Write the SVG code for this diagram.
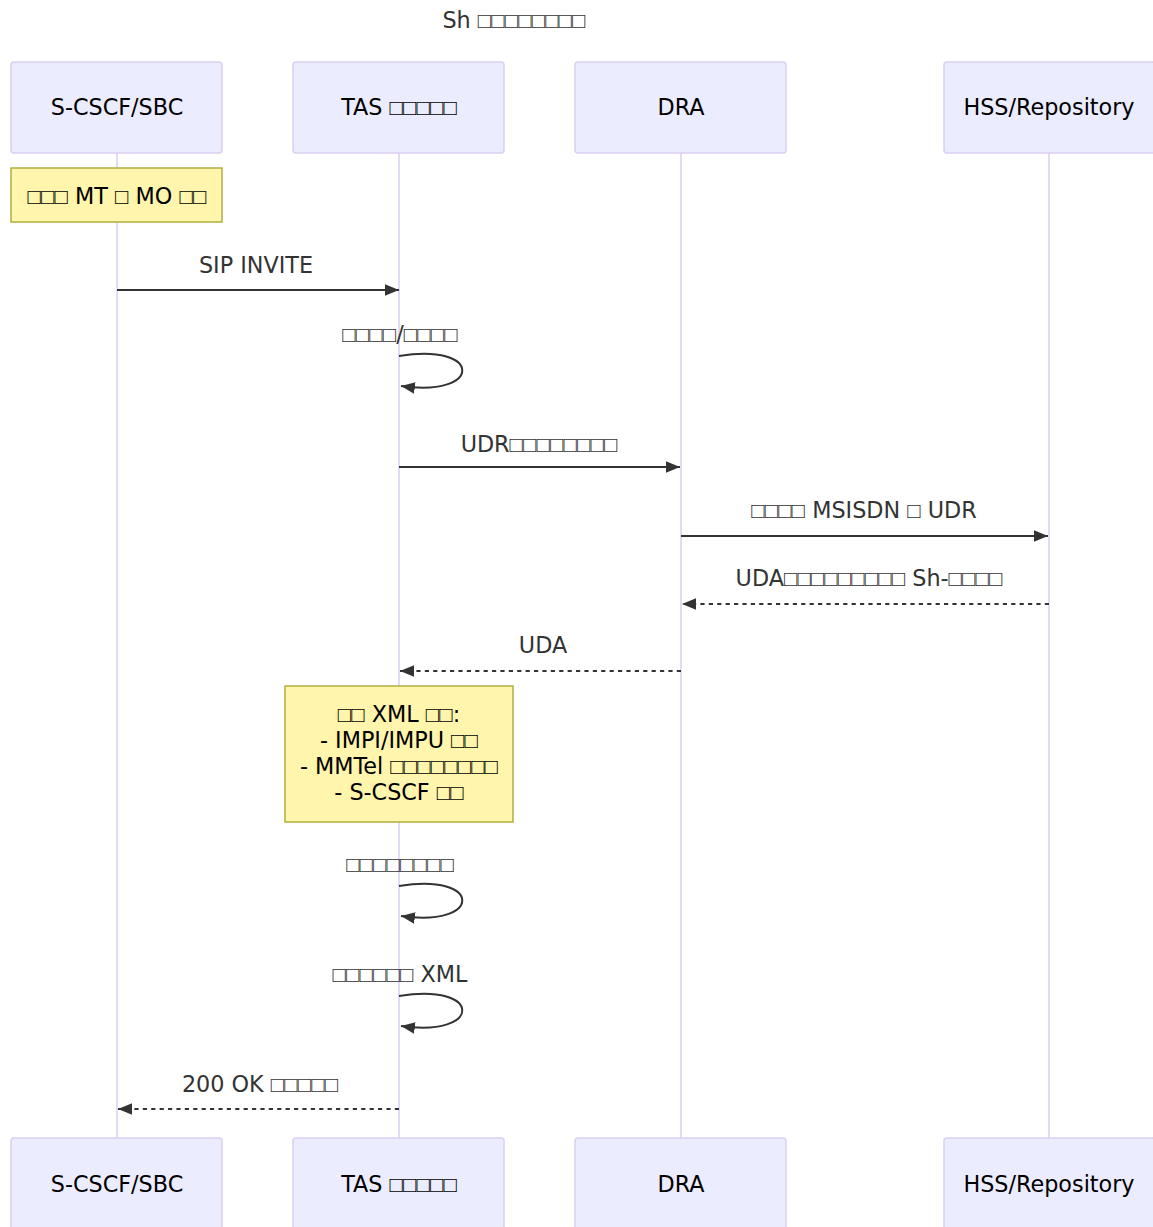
<svg xmlns="http://www.w3.org/2000/svg" width="1153" height="1227" viewBox="0 0 1153 1227">
<style>
text{font-family:"DejaVu Sans","Liberation Sans",sans-serif;font-size:22.3px;fill:#333;text-anchor:middle}
.b{font-family:"Liberation Sans",sans-serif}
.actor{fill:#ECECFF;stroke:#DACEF3;stroke-width:1.5}
.actor-t{fill:#000}
.life{stroke:#DACEF3;stroke-width:1.5}
.note{fill:#FFF5AD;stroke:#AAAA33;stroke-width:1.4}
.note-t{fill:#000}
.msg{stroke:#333;stroke-width:2;fill:none}
.dash{stroke-dasharray:4.2 4.2}
</style>
<defs>
<marker id="ah" viewBox="0 0 12 10" refX="12" refY="5" markerWidth="14" markerHeight="11.7" markerUnits="userSpaceOnUse" orient="auto">
<path d="M0,0 L12,5 L0,10 z" fill="#333"/>
</marker>
</defs>
<text x="514" y="28">Sh <tspan class="b">□□□□□□□□</tspan></text>
<g id="lifelines">
<line class="life" x1="117" y1="153" x2="117" y2="1138"/>
<line class="life" x1="399" y1="153" x2="399" y2="1138"/>
<line class="life" x1="681" y1="153" x2="681" y2="1138"/>
<line class="life" x1="1049" y1="153" x2="1049" y2="1138"/>
</g>
<g id="actor-scscf">
<rect class="actor" x="11" y="62" width="211" height="91" rx="3"/>
<text class="actor-t" x="117" y="115">S-CSCF/SBC</text>
<rect class="actor" x="11" y="1138" width="211" height="91" rx="3"/>
<text class="actor-t" x="117" y="1192">S-CSCF/SBC</text>
</g>
<g id="actor-tas">
<rect class="actor" x="293" y="62" width="211" height="91" rx="3"/>
<text class="actor-t" x="399" y="115">TAS <tspan class="b">□□□□□</tspan></text>
<rect class="actor" x="293" y="1138" width="211" height="91" rx="3"/>
<text class="actor-t" x="399" y="1192">TAS <tspan class="b">□□□□□</tspan></text>
</g>
<g id="actor-dra">
<rect class="actor" x="575" y="62" width="211" height="91" rx="3"/>
<text class="actor-t" x="681" y="115">DRA</text>
<rect class="actor" x="575" y="1138" width="211" height="91" rx="3"/>
<text class="actor-t" x="681" y="1192">DRA</text>
</g>
<g id="actor-hss">
<rect class="actor" x="944" y="62" width="211" height="91" rx="3"/>
<text class="actor-t" x="1049" y="115">HSS/Repository</text>
<rect class="actor" x="944" y="1138" width="211" height="91" rx="3"/>
<text class="actor-t" x="1049" y="1192">HSS/Repository</text>
</g>
<g id="note-1">
<rect class="note" x="11" y="168" width="211" height="54"/>
<text class="note-t" x="117" y="204"><tspan class="b">□□□</tspan> MT <tspan class="b">□</tspan> MO <tspan class="b">□□</tspan></text>
</g>
<g id="note-2">
<rect class="note" x="285" y="686" width="228" height="136"/>
<text class="note-t" x="399" y="722"><tspan class="b">□□</tspan> XML <tspan class="b">□□</tspan>:</text>
<text class="note-t" x="399" y="748">- IMPI/IMPU <tspan class="b">□□</tspan></text>
<text class="note-t" x="399" y="774">- MMTel <tspan class="b">□□□□□□□□</tspan></text>
<text class="note-t" x="399" y="800">- S-CSCF <tspan class="b">□□</tspan></text>
</g>
<g id="connectors">
<path class="msg" d="M117,290 L399,290" marker-end="url(#ah)"/>
<path class="msg" d="M399,356 C483,342 483,398 401,386" marker-end="url(#ah)"/>
<path class="msg" d="M399,467 L680,467" marker-end="url(#ah)"/>
<path class="msg" d="M681,536 L1048,536" marker-end="url(#ah)"/>
<path class="msg dash" d="M1049,604 L682,604" marker-end="url(#ah)"/>
<path class="msg dash" d="M681,671 L400,671" marker-end="url(#ah)"/>
<path class="msg" d="M399,886 C483,872 483,928 401,916" marker-end="url(#ah)"/>
<path class="msg" d="M399,996 C483,982 483,1038 401,1026" marker-end="url(#ah)"/>
<path class="msg dash" d="M399,1109 L118,1109" marker-end="url(#ah)"/>
</g>
<g id="labels">
<text x="256" y="273">SIP INVITE</text>
<text x="400" y="342"><tspan class="b">□□□□</tspan>/<tspan class="b">□□□□</tspan></text>
<text x="539" y="452">UDR<tspan class="b">□□□□□□□□</tspan></text>
<text x="864" y="518"><tspan class="b">□□□□</tspan> MSISDN <tspan class="b">□</tspan> UDR</text>
<text x="869" y="586">UDA<tspan class="b">□□□□□□□□□</tspan> Sh-<tspan class="b">□□□□</tspan></text>
<text x="543" y="653">UDA</text>
<text x="400" y="872"><tspan class="b">□□□□□□□□</tspan></text>
<text x="400" y="982"><tspan class="b">□□□□□□</tspan> XML</text>
<text x="260" y="1092">200 OK <tspan class="b">□□□□□</tspan></text>
</g>
</svg>
